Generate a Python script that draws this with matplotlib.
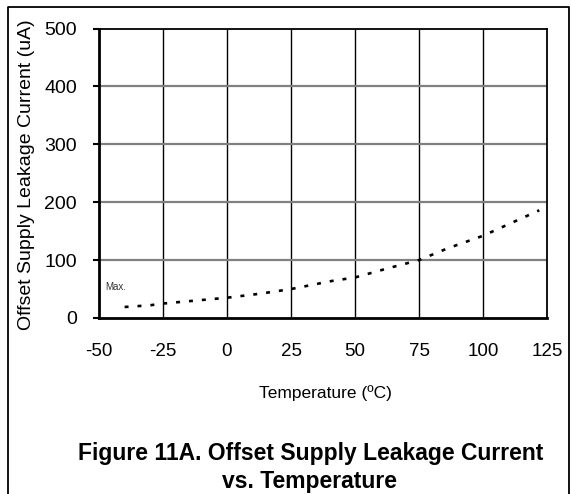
import matplotlib
matplotlib.use("Agg")
import matplotlib.pyplot as plt
from matplotlib.lines import Line2D

# data
temp = [-40, -30, -25, -15, 0, 13, 25, 41, 50, 63, 75, 86, 100, 113, 122]
leak = [19, 22, 25, 29, 35, 42, 50, 64, 70, 86, 100, 120, 142, 168, 186]
xticks = [-50, -25, 0, 25, 50, 75, 100, 125]
yticks = [0, 100, 200, 300, 400, 500]

plt.rcParams['font.family'] = ['Liberation Sans', 'DejaVu Sans']

W, H = 571, 494
fig = plt.figure(figsize=(W / 100, H / 100), dpi=100)
ax = fig.add_axes([99 / W, 1 - 318 / H, 448 / W, 289.5 / H])

ax.plot(temp, leak, color='black', lw=1.9, linestyle=(0, (1.5, 3.4)),
        dash_capstyle='butt', zorder=3)

ax.set_xlim(-50, 125)
ax.set_ylim(0, 500)
ax.set_xticks(xticks)
ax.set_yticks(yticks)
ax.set_xticklabels([str(t) for t in xticks], fontsize=13.5)
ax.set_yticklabels([str(t) for t in yticks], fontsize=14)
ax.tick_params(axis='x', length=0, pad=18)
ax.tick_params(axis='y', length=4, width=1.5, pad=12)

# grid: black verticals, grey horizontals
for t in xticks[1:-1]:
    ax.axvline(t, color='black', lw=1.0, zorder=1)
for t in yticks[1:-1]:
    ax.axhline(t, color='#808080', lw=1.6, zorder=1)

for side in ['left', 'bottom']:
    ax.spines[side].set_linewidth(2.0)
for side in ['top', 'right']:
    ax.spines[side].set_linewidth(1.3)

ax.text(-47.6, 48, 'Max.', fontsize=7, color='#333333')

fig.text(27 / W, 1 - 175 / H, 'Offset Supply Leakage Current (uA)', rotation=90,
         ha='center', va='center', fontsize=14)
fig.text(325 / W, 1 - 398 / H, 'Temperature (ºC)', ha='center', va='baseline',
         fontsize=12.5)
fig.text(311 / W, 1 - 460 / H, 'Figure 11A. Offset Supply Leakage Current',
         ha='center', va='baseline', fontsize=16.5, fontweight='bold')
fig.text(310 / W, 1 - 488 / H, 'vs. Temperature',
         ha='center', va='baseline', fontsize=16.5, fontweight='bold')

# outer frame (open at the bottom)
fx = [7.5 / W, 7.5 / W, 569 / W, 569 / W]
fy = [0, 1 - 7.5 / H, 1 - 7.5 / H, 0]
fig.add_artist(Line2D(fx, fy, color='black', lw=1.3, transform=fig.transFigure))

fig.savefig('out.png', dpi=100)
